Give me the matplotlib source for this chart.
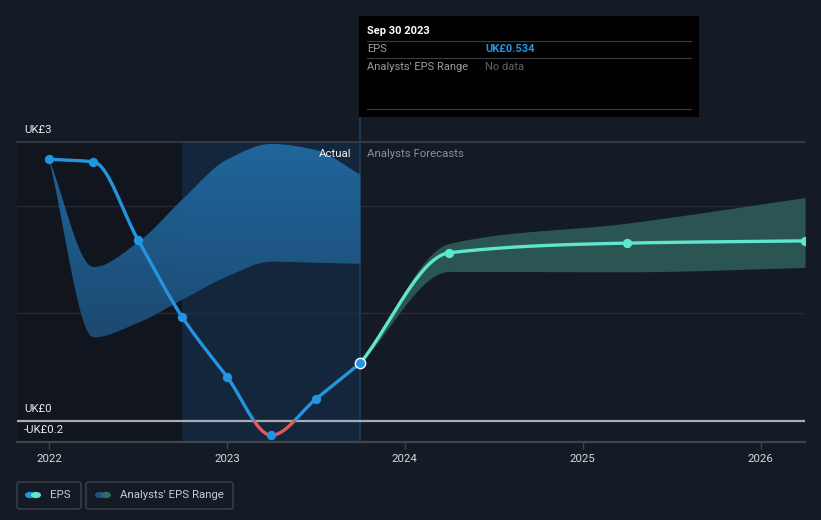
import numpy as np
import matplotlib
matplotlib.use("Agg")
import matplotlib.pyplot as plt
from matplotlib.patches import FancyBboxPatch, Rectangle, Circle, Polygon
from matplotlib.colors import LinearSegmentedColormap

plt.rcParams['font.family'] = ['Roboto', 'DejaVu Sans']

# ---- data ----
eps_x = [2022.0, 2022.25, 2022.5, 2022.75, 2023.0, 2023.25, 2023.5, 2023.75]
eps_y = [2.434, 2.41, 1.684, 0.961, 0.409, -0.137, 0.20, 0.534]

past_range_x = [2022.0, 2022.25, 2022.5, 2022.75, 2023.0, 2023.25, 2023.5, 2023.75]
past_range_hi = [2.434, 1.43, 1.66, 2.06, 2.43, 2.577, 2.52, 2.29]
past_range_lo = [2.434, 0.775, 0.91, 1.126, 1.34, 1.48, 1.47, 1.46]

fc_x = [2023.75, 2024.25, 2025.25, 2026.25]
fc_y = [0.534, 1.563, 1.653, 1.674]
fc_hi = [0.534, 1.65, 1.839, 2.077]
fc_lo = [0.534, 1.389, 1.386, 1.426]

year_ticks = [2022, 2023, 2024, 2025, 2026]
year_labels = ["2022", "2023", "2024", "2025", "2026"]
y_labels = {"top": "UK£3", "zero": "UK£0", "bottom": "-UK£0.2"}

BG = "#151b25"
BLUE = "#2394df"
TEAL = "#5ee6cf"
RED = "#e05a5a"
FS = 8.2


def smooth(xs, ys, n=60):
    """Monotone cubic (Fritsch-Carlson) rendering of a series."""
    xs = np.asarray(xs, float); ys = np.asarray(ys, float)
    h = np.diff(xs); d = np.diff(ys) / h
    m = np.zeros_like(ys)
    m[0] = d[0]; m[-1] = d[-1]
    for i in range(1, len(ys) - 1):
        if d[i - 1] * d[i] <= 0:
            m[i] = 0
        else:
            w1 = 2 * h[i] + h[i - 1]; w2 = h[i] + 2 * h[i - 1]
            m[i] = (w1 + w2) / (w1 / d[i - 1] + w2 / d[i])
    ox, oy = [], []
    for i in range(len(h)):
        t = np.linspace(0, 1, n, endpoint=(i == len(h) - 1))
        h00 = 2*t**3 - 3*t**2 + 1; h10 = t**3 - 2*t**2 + t
        h01 = -2*t**3 + 3*t**2; h11 = t**3 - t**2
        ox.append(xs[i] + t * h[i])
        oy.append(h00*ys[i] + h10*h[i]*m[i] + h01*ys[i+1] + h11*h[i]*m[i+1])
    return np.concatenate(ox), np.concatenate(oy)


fig = plt.figure(figsize=(8.21, 5.20), dpi=100, facecolor=BG)
ax = fig.add_axes([17/821, 1 - 442/520, (805-17)/821, (442-142)/520])
ax.set_facecolor(BG)
xmin, xmax = 2021.82, 2026.25
ymin, ymax = -0.2, 2.595
ax.set_xlim(xmin, xmax)
ax.set_ylim(ymin, ymax)
for s in ax.spines.values():
    s.set_visible(False)

# background regions
ax.axvspan(xmin, 2022.75, color="#11161e", zorder=0, lw=0)
ax.axvspan(2022.75, 2023.75, color="#14263b", zorder=0, lw=0)
ax.axvline(2023.75, color="#1d3d5e", lw=1.2, zorder=1)

# gridlines
for gy in [1, 2]:
    ax.axhline(gy, color="#262c37", lw=1, zorder=1)
ax.axhline(ymax, color="#3a404b", lw=1.2, zorder=1, clip_on=False)
ax.axhline(0, color="#a9acb1", lw=1.6, zorder=2)
ax.axhline(ymin, color="#3e4450", lw=1.6, zorder=2, clip_on=False)

# past analyst range with gradient
bx, bh = smooth(past_range_x, past_range_hi)
_, bl = smooth(past_range_x, past_range_lo)
poly = Polygon(np.column_stack([np.concatenate([bx, bx[::-1]]),
                                np.concatenate([bh, bl[::-1]])]),
               closed=True, facecolor="none", edgecolor="none")
ax.add_patch(poly)
grad = np.linspace(0, 1, 256).reshape(-1, 1)
cmap = LinearSegmentedColormap.from_list("b", ["#1d4a73", "#216aa2"])
im = ax.imshow(grad, extent=[xmin, xmax, 0.6, ymax], origin="lower",
               aspect="auto", cmap=cmap, zorder=3, alpha=0.95)
im.set_clip_path(poly)

# forecast range
fx, fh = smooth(fc_x, fc_hi)
_, fl = smooth(fc_x, fc_lo)
ax.fill_between(fx, fl, fh, color="#2b5553", lw=0, zorder=3)

# EPS line (blue positive, red negative)
ex, ey = smooth(eps_x, eps_y)
pos = np.ma.masked_where(ey < 0, ey)
neg = np.ma.masked_where(ey > 0, ey)
ax.plot(ex, pos, color=BLUE, lw=2.4, zorder=5, solid_capstyle="round")
ax.plot(ex, neg, color=RED, lw=2.4, zorder=5, solid_capstyle="round")
ax.scatter(eps_x[:-1], eps_y[:-1], s=45, color=BLUE, zorder=6, lw=0)

gx, gy = smooth(fc_x, fc_y)
ax.plot(gx, gy, color=TEAL, lw=2.4, zorder=5)
ax.scatter(fc_x[1:], fc_y[1:], s=45, color=TEAL, zorder=6, lw=0)
ax.scatter([eps_x[-1]], [eps_y[-1]], s=55, color=BLUE, edgecolor="white",
           lw=1.0, zorder=7)

# x ticks
ax.set_xticks(year_ticks)
ax.set_xticklabels(year_labels)
ax.tick_params(axis="x", colors="#3e4450", length=5, width=1, pad=4,
               labelcolor="#d6d8dc", labelsize=FS)
ax.set_yticks([])

# y labels
tf = dict(color="#e8eaed", fontsize=FS, transform=fig.transFigure)
fig.text(24/821, 1 - 130/520, y_labels["top"], va="center", ha="left", **tf)
fig.text(24/821, 1 - 409/520, y_labels["zero"], va="center", ha="left", **tf)
fig.text(24/821, 1 - 430/520, y_labels["bottom"], va="center", ha="left", **tf)

fig.text(351/821, 1 - 154/520, "Actual", color="#f0f0f0", fontsize=FS,
         ha="right", va="center")
fig.text(367/821, 1 - 154/520, "Analysts Forecasts", color="#8a8f98",
         fontsize=FS, ha="left", va="center")

# tooltip
fig.patches.append(Rectangle((359/821, 1 - 117/520), 340/821, 101/520,
                             transform=fig.transFigure, facecolor="#000000",
                             edgecolor="none", zorder=10))
fig.lines.append(plt.Line2D([360/821, 360/821], [1 - 117/520, 1 - 142/520],
                            transform=fig.transFigure, color="#1d3d5e", lw=1.2))
for ly in [41, 58, 109]:
    fig.lines.append(plt.Line2D([367/821, 691/821], [1 - ly/520, 1 - ly/520],
                                transform=fig.transFigure, color="#3a3d42",
                                lw=0.8, zorder=11))
TT = 8.0
fig.text(367/821, 1 - 31/520, "Sep 30 2023", color="white", fontsize=TT,
         fontweight="bold", va="center", zorder=12)
fig.text(367/821, 1 - 49.5/520, "EPS", color="#9a9ea5", fontsize=TT,
         va="center", zorder=12)
fig.text(485/821, 1 - 49.5/520, "UK£0.534", color=BLUE, fontsize=TT,
         fontweight="bold", va="center", zorder=12)
fig.text(367/821, 1 - 66.5/520, "Analysts' EPS Range", color="#9a9ea5",
         fontsize=TT, va="center", zorder=12)
fig.text(485/821, 1 - 66.5/520, "No data", color="#5d6168", fontsize=TT,
         va="center", zorder=12)

# legend boxes
def legbox(x0, x1, c1, c2, label, tx):
    fig.patches.append(FancyBboxPatch((x0/821, 1 - 509/520), (x1-x0)/821, 27/520,
                                      boxstyle="round,pad=0,rounding_size=0.004",
                                      transform=fig.transFigure,
                                      facecolor="none", edgecolor="#3c4350", lw=1))
    fig.patches.append(Circle(((tx - 20)/821, 1 - 495/520), 5/821,
                              transform=fig.transFigure, facecolor=c1, edgecolor="none"))
    fig.patches.append(Circle(((tx - 14)/821, 1 - 495/520), 5/821,
                              transform=fig.transFigure, facecolor=c2, edgecolor="none"))
    fig.text(tx/821, 1 - 495.5/520, label, color="#c9ccd1", fontsize=FS, va="center")

legbox(17, 81, BLUE, TEAL, "EPS", 50)
legbox(86, 233, "#22527c", "#2e6b67", "Analysts' EPS Range", 120)

fig.savefig("out.png", dpi=100, facecolor=BG)
